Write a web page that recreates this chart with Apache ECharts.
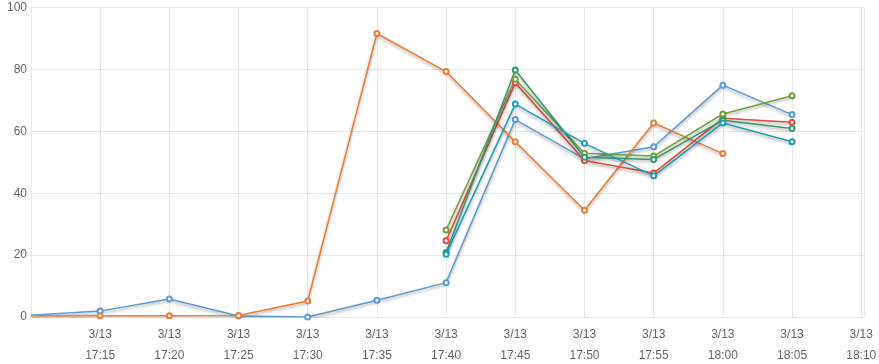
<!DOCTYPE html>
<html>
<head>
<meta charset="utf-8">
<script src="https://cdn.jsdelivr.net/npm/echarts@6/dist/echarts.min.js"></script>
<style>html,body{margin:0;padding:0;background:#fff;}#c{width:879px;height:364px;}</style>
</head>
<body>
<div id="c"></div>
<script>
// Time points (3/13)
const times = ["17:10","17:15","17:20","17:25","17:30","17:35","17:40","17:45","17:50","17:55","18:00","18:05"];
const dateLabel = "3/13";
const axisStart = "17:10";
const axisEndMinutes = 60.2;
const yTicks = [0, 20, 40, 60, 80, 100];

const seriesBlue   = [0.6, 1.9, 5.8, 0.3, 0.0, 5.4, 11.1, 63.8, 51.1, 55.0, 74.9, 65.4];
const seriesOrange = [0.4, 0.4, 0.4, 0.5, 5.2, 91.6, 79.3, 56.6, 34.5, 62.7, 52.8, null];
const seriesRed    = [null, null, null, null, null, null, 24.6, 75.7, 50.6, 46.5, 64.2, 62.9];
const seriesOlive  = [null, null, null, null, null, null, 28.1, 76.8, 52.9, 52.0, 65.6, 71.5];
const seriesGreen  = [null, null, null, null, null, null, 20.8, 79.8, 51.6, 50.9, 63.6, 60.9];
const seriesTeal   = [null, null, null, null, null, null, 20.3, 68.8, 56.1, 45.6, 62.7, 56.6];

const colors = ["#5b9bd5", "#ed7d31", "#e3493b", "#72a03a", "#2f9a6c", "#1f9eb8"];
const allSeries = [seriesBlue, seriesOrange, seriesRed, seriesOlive, seriesGreen, seriesTeal];

function toMin(t) {
  const [h, m] = t.split(":").map(Number);
  const [h0, m0] = axisStart.split(":").map(Number);
  return (h * 60 + m) - (h0 * 60 + m0);
}
function fmt(v) {
  const [h0, m0] = axisStart.split(":").map(Number);
  const tot = h0 * 60 + m0 + Math.round(v);
  const h = Math.floor(tot / 60), m = tot % 60;
  return dateLabel + "\n" + h + ":" + (m < 10 ? "0" + m : m);
}

const chart = echarts.init(document.getElementById("c"));
chart.setOption({
  animation: false,
  grid: { left: 31, right: 15, top: 7.5, bottom: 47, containLabel: false, outerBoundsMode: "none" },
  xAxis: {
    type: "value",
    min: 0,
    max: axisEndMinutes,
    interval: 5,
    axisLine: { show: false },
    axisTick: { show: false },
    splitLine: { show: true, lineStyle: { color: "#e8e8e8" } },
    axisLabel: {
      color: "#666", fontSize: 12, fontFamily: "Liberation Sans, Arial, sans-serif",
      lineHeight: 21, margin: 7,
      showMinLabel: false, showMaxLabel: false,
      formatter: fmt
    }
  },
  yAxis: {
    type: "value",
    min: yTicks[0], max: yTicks[yTicks.length - 1], interval: 20,
    axisLine: { show: false },
    axisTick: { show: false },
    splitLine: { show: true, lineStyle: { color: "#e8e8e8" } },
    axisLabel: { color: "#666", fontSize: 12, fontFamily: "Liberation Sans, Arial, sans-serif", margin: 4 }
  },
  series: allSeries.map((arr, i) => ({
    type: "line",
    data: times.map((t, j) => {
      if (arr[j] == null) return null;
      const d = { value: [toMin(t), arr[j]] };
      if (toMin(t) === 0) d.symbol = "none";
      return d;
    }).filter(d => d),
    symbol: "emptyCircle",
    symbolSize: 5,
    showAllSymbol: true,
    color: colors[i],
    lineStyle: { width: 1.5, color: colors[i], shadowColor: "rgba(0,0,0,0.35)", shadowBlur: 3, shadowOffsetY: 2 },
    itemStyle: { color: colors[i], borderWidth: 2 },
    emphasis: { disabled: true }
  }))
});
</script>
</body>
</html>
